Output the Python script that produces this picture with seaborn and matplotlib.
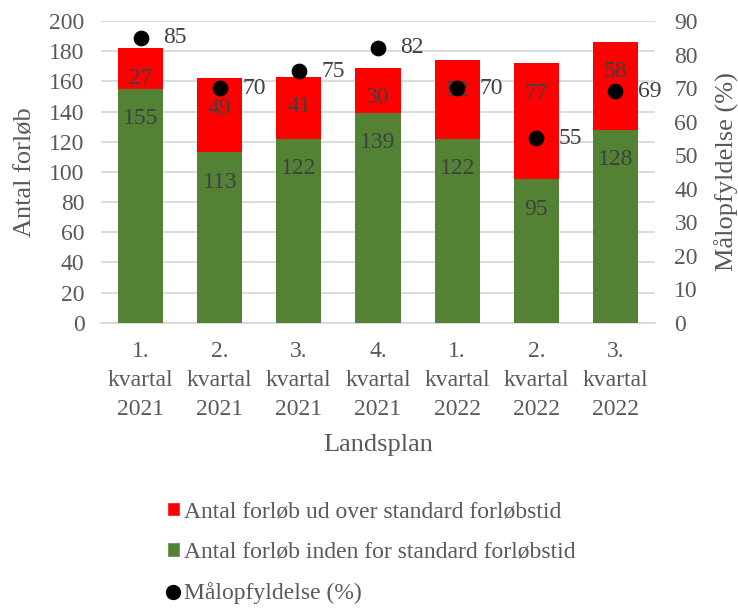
import pandas as pd
import matplotlib.pyplot as plt
import seaborn as sns
from matplotlib.patches import Patch
from matplotlib.lines import Line2D

# Kvartaler (landsplan)
quarters = ["1.\nkvartal\n2021", "2.\nkvartal\n2021", "3.\nkvartal\n2021",
            "4.\nkvartal\n2021", "1.\nkvartal\n2022", "2.\nkvartal\n2022",
            "3.\nkvartal\n2022"]
inden_for = [155, 113, 122, 139, 122, 95, 128]   # inden for standard forløbstid
ud_over = [27, 49, 41, 30, 52, 77, 58]           # ud over standard forløbstid
maalopfyldelse = [85, 70, 75, 82, 70, 55, 69]    # procent

GREEN = "#548235"
RED = "#FF0000"
TXT = "#595959"
LBL = "#404040"
FS = 17

sns.set_style("white")
plt.rcParams["font.family"] = ["Liberation Serif", "DejaVu Serif"]
plt.rcParams["font.size"] = FS

df = pd.DataFrame({
    "kvartal": quarters,
    "inden": inden_for,
    "ud": ud_over,
    "total": [a + b for a, b in zip(inden_for, ud_over)],
    "pct": maalopfyldelse,
})

fig = plt.figure(figsize=(7.38, 6.08), dpi=100)
ax = fig.add_axes([0.137, 0.469, 0.7505, 0.4965])

# stacked bars: total in red, then green on top of it
sns.barplot(data=df, x="kvartal", y="total", color=RED, width=0.57,
            saturation=1, linewidth=0, ax=ax, zorder=2)
sns.barplot(data=df, x="kvartal", y="inden", color=GREEN, width=0.57,
            saturation=1, linewidth=0, ax=ax, zorder=3)

# data labels, inside end of each segment
for i, row in df.iterrows():
    ax.annotate(str(row["inden"]), (i, row["inden"]), xytext=(0, -21.5),
                textcoords="offset points", ha="center", va="center",
                color=LBL, fontsize=FS, zorder=5)
    ax.annotate(str(row["ud"]), (i, row["total"]), xytext=(0, -21.5),
                textcoords="offset points", ha="center", va="center",
                color=LBL, fontsize=FS, zorder=5)

ax.set_ylim(0, 200)
ax.set_xlim(-0.5, len(quarters) - 0.5)
ax.set_yticks(range(0, 201, 20))
ax.set_xticks(range(len(quarters)), quarters, linespacing=1.5)
ax.yaxis.grid(True, color="#d9d9d9", lw=1.3)
ax.set_axisbelow(True)
for s in ["top", "right", "left"]:
    ax.spines[s].set_visible(False)
ax.spines["bottom"].set_color("#d9d9d9")
ax.spines["bottom"].set_linewidth(1.3)
ax.tick_params(axis="both", length=0, colors=TXT, labelsize=FS)
ax.tick_params(axis="x", pad=13)
ax.tick_params(axis="y", pad=12)
ax.set_xlabel("Landsplan", color=TXT, fontsize=19, labelpad=10)
ax.set_ylabel("Antal forløb", color=TXT, fontsize=19, labelpad=9)

# secondary axis: målopfyldelse
ax2 = ax.twinx()
sns.scatterplot(data=df, x="kvartal", y="pct", color="black", s=110,
                edgecolor="black", ax=ax2, zorder=6, legend=False)
for i, row in df.iterrows():
    ax2.annotate(str(row["pct"]), (i, row["pct"]), xytext=(16, 0),
                 textcoords="offset points", ha="left", va="center",
                 color=LBL, fontsize=FS)
ax2.set_ylim(0, 90)
ax2.set_yticks(range(0, 91, 10))
for s in ["top", "right", "left", "bottom"]:
    ax2.spines[s].set_visible(False)
ax2.tick_params(axis="y", length=0, colors=TXT, labelsize=FS, pad=14)
ax2.set_ylabel("Målopfyldelse (%)", color=TXT, fontsize=19, labelpad=12)
ax2.set_xlabel("")

handles = [
    Patch(facecolor=RED, label="Antal forløb ud over standard forløbstid"),
    Patch(facecolor=GREEN, label="Antal forløb inden for standard forløbstid"),
    Line2D([], [], marker="o", color="black", ls="none", markersize=10,
           label="Målopfyldelse (%)"),
]
leg = fig.legend(handles=handles, loc="upper left", bbox_to_anchor=(0.226, 0.175),
                 frameon=False, fontsize=FS, labelspacing=0.82,
                 handlelength=0.55, handleheight=0.55, handletextpad=0.2,
                 borderpad=0, borderaxespad=0)
for t in leg.get_texts():
    t.set_color(TXT)

fig.savefig("out.png", dpi=100)
